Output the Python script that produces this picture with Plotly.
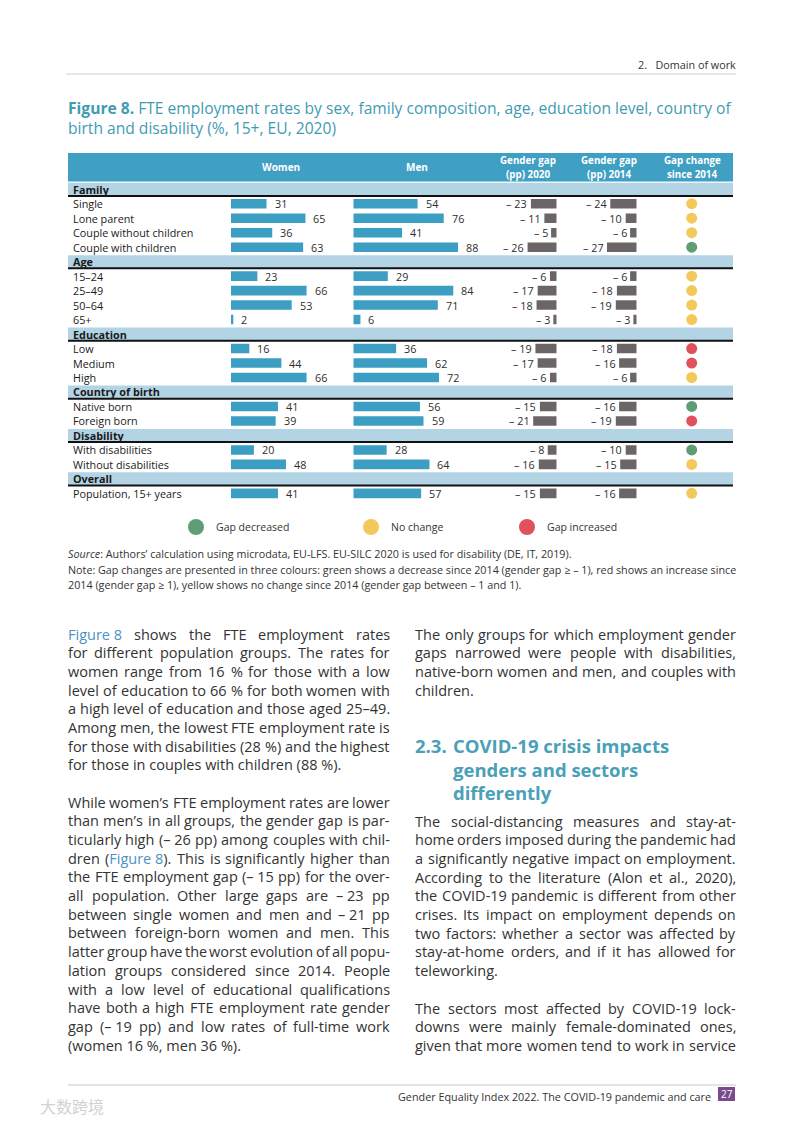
import plotly.graph_objects as go

W, H = 793, 1122
OFF = 8  # page body margin of the html page
def xp(px): return (px - OFF) / W
def yp(py): return 1 - (py - OFF) / H

# ---------------- data ----------------
rows = ["Family", "Single", "Lone parent", "Couple without children", "Couple with children",
        "Age", "15–24", "25–49", "50–64", "65+",
        "Education", "Low", "Medium", "High",
        "Country of birth", "Native born", "Foreign born",
        "Disability", "With disabilities", "Without disabilities",
        "Overall", "Population, 15+ years"]
section_rows = ["Family", "Age", "Education", "Country of birth", "Disability", "Overall"]

women = [None, 31, 65, 36, 63, None, 23, 66, 53, 2, None, 16, 44, 66, None, 41, 39, None, 20, 48, None, 41]
men = [None, 54, 76, 41, 88, None, 29, 84, 71, 6, None, 36, 62, 72, None, 56, 59, None, 28, 64, None, 57]
gap_2020 = [None, -23, -11, -5, -26, None, -6, -17, -18, -3, None, -19, -17, -6, None, -15, -21, None, -8, -16, None, -15]
gap_2014 = [None, -24, -10, -6, -27, None, -6, -18, -19, -3, None, -18, -16, -6, None, -16, -19, None, -10, -15, None, -16]
change = [None, "No change", "No change", "No change", "Gap decreased",
          None, "No change", "No change", "No change", "No change",
          None, "Gap increased", "Gap increased", "No change",
          None, "Gap decreased", "Gap increased",
          None, "Gap decreased", "No change",
          None, "No change"]
change_categories = ["Gap decreased", "No change", "Gap increased"]
column_headers = [("Women",), ("Men",), ("Gender gap", "(pp) 2020"), ("Gender gap", "(pp) 2014"), ("Gap change", "since 2014")]

# ---------------- styles ----------------
HEAD_BLUE = "#3fa0c3"
BAND_BLUE = "#b2d4e4"
BAR_BLUE = "#3c9ec3"
GAP_GREY = "#6b6567"
DOT_COLORS = {"Gap decreased": "#5f9e74", "No change": "#f3c95c", "Gap increased": "#e0525b"}
TXT = "#2e2e2e"
TEAL = "#3f9bb3"
LINK = "#4a93c4"
FONT = "Open Sans"

fig = go.Figure()

fig.add_trace(go.Bar(
    y=rows, x=[1 if r in section_rows else None for r in rows], orientation="h",
    xaxis="x", yaxis="y", width=0.9, marker=dict(color=BAND_BLUE, line=dict(width=0)),
    showlegend=False, hoverinfo="skip"))
fig.add_trace(go.Bar(y=rows, x=women, orientation="h", xaxis="x2", yaxis="y", width=0.66,
                     marker=dict(color=BAR_BLUE, line=dict(width=0)), showlegend=False))
fig.add_trace(go.Bar(y=rows, x=men, orientation="h", xaxis="x3", yaxis="y", width=0.66,
                     marker=dict(color=BAR_BLUE, line=dict(width=0)), showlegend=False))
fig.add_trace(go.Bar(y=rows, x=gap_2020, orientation="h", xaxis="x4", yaxis="y", width=0.66,
                     marker=dict(color=GAP_GREY, line=dict(width=0)), showlegend=False))
fig.add_trace(go.Bar(y=rows, x=gap_2014, orientation="h", xaxis="x5", yaxis="y", width=0.66,
                     marker=dict(color=GAP_GREY, line=dict(width=0)), showlegend=False))

for k, cat in enumerate(change_categories):
    ys = [r for r, c in zip(rows, change) if c == cat]
    fig.add_trace(go.Scatter(x=[0] * len(ys), y=ys, mode="markers", xaxis="x6", yaxis="y",
                             marker=dict(size=11, color=DOT_COLORS[cat]), showlegend=False))
    fig.add_trace(go.Scatter(x=[None], y=[None], mode="markers", name=cat,
                             marker=dict(size=17, color=DOT_COLORS[cat]),
                             legend="legend" if k == 0 else f"legend{k+1}", showlegend=True,
                             xaxis="x6", yaxis="y"))

ann = []
def add_text(xpx, ypx, text, size, color=TXT, anchor="left", family=FONT):
    shift = {"left": -2, "right": 2, "center": 0}[anchor]
    ann.append(dict(x=xp(xpx), y=yp(ypx), xref="paper", yref="paper", xanchor=anchor,
                    yanchor="middle", xshift=shift, showarrow=False, text=text,
                    font=dict(size=size, color=color, family=family)))

# row labels + rule under section bands
for i, r in enumerate(rows):
    sec = r in section_rows
    ann.append(dict(x=xp(73), xref="paper", y=r, yref="y", xanchor="left", yanchor="middle", xshift=-2,
                    text=f"<b>{r}</b>" if sec else r, showarrow=False,
                    font=dict(size=10.8, color="#1a1a1a", family=FONT)))
    if sec:
        fig.add_shape(type="line", xref="paper", yref="y", x0=xp(68), x1=xp(733),
                      y0=i + 0.46, y1=i + 0.46, line=dict(color="#111111", width=2))

for axis, vals in (("x2", women), ("x3", men)):
    for r, v in zip(rows, vals):
        if v is not None:
            ann.append(dict(x=v, xref=axis, y=r, yref="y", text=str(v), xanchor="left", yanchor="middle",
                            xshift=6, showarrow=False, font=dict(size=10.8, color=TXT, family=FONT)))
for axis, vals in (("x4", gap_2020), ("x5", gap_2014)):
    for r, v in zip(rows, vals):
        if v is not None:
            ann.append(dict(x=v, xref=axis, y=r, yref="y", text=f"– {abs(v)}", xanchor="right",
                            yanchor="middle", xshift=-1.5, showarrow=False,
                            font=dict(size=10.8, color=TXT, family=FONT)))

# header band
fig.add_shape(type="rect", xref="paper", yref="paper", x0=xp(68), x1=xp(733),
              y0=yp(181.5), y1=yp(153), fillcolor=HEAD_BLUE, line=dict(width=0), layer="below")
head_x = [281, 417, 528, 609, 692]
for cx, lines in zip(head_x, column_headers):
    if len(lines) == 1:
        add_text(cx, 167.5, f"<b>{lines[0]}</b>", 10, "white", "center")
    else:
        for ly, t in zip((160, 175), lines):
            add_text(cx, ly, f"<b>{t}</b>", 9.8, "white", "center")

# title
add_text(68, 108, "<b>Figure 8.</b> FTE employment rates by sex, family composition, age, education level, country of",
         15.6, TEAL)
add_text(68, 128, "birth and disability (%, 15+, EU, 2020)", 15.6, TEAL)

# source / note
add_text(68, 554, "<i>Source</i>: Authors’ calculation using microdata, EU-LFS. EU-SILC 2020 is used for disability (DE, IT, 2019).", 10.75, "#333")
add_text(68, 570, "Note: Gap changes are presented in three colours: green shows a decrease since 2014 (gender gap ≥ – 1), red shows an increase since", 10.75, "#333")
add_text(68, 585, "2014 (gender gap ≥ 1), yellow shows no change since 2014 (gender gap between – 1 and 1).", 10.75, "#333")

# ---------------- body text (justified) ----------------
CW = {' ': .26, '!': .267, '"': .404, '%': .818, "'": .221, '(': .296, ')': .296, ',': .245, '-': .322,
      '.': .266, '/': .367, ':': .266, ';': .266, '–': .5, '’': .174, '\u00a0': .26,
      'A': .633, 'B': .648, 'C': .631, 'D': .729, 'E': .556, 'F': .516, 'G': .728, 'H': .738, 'I': .279,
      'J': .267, 'K': .614, 'L': .519, 'M': .903, 'N': .754, 'O': .779, 'P': .602, 'Q': .779, 'R': .618,
      'S': .549, 'T': .553, 'U': .728, 'V': .595, 'W': .925, 'X': .577, 'Y': .56, 'Z': .571,
      'a': .556, 'b': .613, 'c': .476, 'd': .613, 'e': .561, 'f': .339, 'g': .548, 'h': .614, 'i': .253,
      'j': .253, 'k': .525, 'l': .253, 'm': .93, 'n': .614, 'o': .602, 'p': .613, 'q': .613, 'r': .407,
      's': .477, 't': .353, 'u': .614, 'v': .501, 'w': .778, 'x': .524, 'y': .502, 'z': .468}
for d in "0123456789":
    CW[d] = .572
def text_w(s, size):
    return sum(CW.get(ch, .56) for ch in s) * size

NB = "\u00a0"
left1 = [f"Figure{NB}8 shows the FTE employment rates",
         "for different population groups. The rates for",
         "women range from 16 % for those with a low",
         "level of education to 66 % for both women with",
         "a high level of education and those aged 25–49.",
         "Among men, the lowest FTE employment rate is",
         "for those with disabilities (28 %) and the highest",
         "for those in couples with children (88 %)."]
left2 = ["While women’s FTE employment rates are lower",
         "than men’s in all groups, the gender gap is par-",
         "ticularly high (– 26 pp) among couples with chil-",
         f"dren (Figure{NB}8). This is significantly higher than",
         "the FTE employment gap (– 15 pp) for the over-",
         "all population. Other large gaps are – 23 pp",
         "between single women and men and – 21 pp",
         "between foreign-born women and men. This",
         "latter group have the worst evolution of all popu-",
         "lation groups considered since 2014. People",
         "with a low level of educational qualifications",
         "have both a high FTE employment rate gender",
         "gap (– 19 pp) and low rates of full-time work",
         "(women 16 %, men 36 %)."]
right1 = ["The only groups for which employment gender",
          "gaps narrowed were people with disabilities,",
          "native-born women and men, and couples with",
          "children."]
right2 = ["The social-distancing measures and stay-at-",
          "home orders imposed during the pandemic had",
          "a significantly negative impact on employment.",
          "According to the literature (Alon et al., 2020),",
          "the COVID-19 pandemic is different from other",
          "crises. Its impact on employment depends on",
          "two factors: whether a sector was affected by",
          "stay-at-home orders, and if it has allowed for",
          "teleworking."]
right3 = ["The sectors most affected by COVID-19 lock-",
          "downs were mainly female-dominated ones,",
          "given that more women tend to work in service"]

BODY = 14.5
LH = 18.7
def fmt(w):
    return w.replace(f"Figure{NB}8", f"<span style='color:{LINK}'>Figure 8</span>")
def tokens(t):
    out = []
    for w in t.split(" "):
        if out and out[-1] in ("(–", "–"):
            out[-1] = out[-1] + NB + w
        else:
            out.append(w)
    return out
def para(lines, x0, x1, y0, last_justified=False):
    for k, t in enumerate(lines):
        y = y0 + k * LH
        if k == len(lines) - 1 and not last_justified:
            add_text(x0, y, fmt(t), BODY, "#333")
            continue
        words = tokens(t)
        widths = [text_w(w, BODY) for w in words]
        gap = (x1 - x0 - sum(widths)) / (len(words) - 1)
        x = x0
        for j, (w, wd) in enumerate(zip(words, widths)):
            if j == len(words) - 1:
                add_text(x1, y, fmt(w), BODY, "#333", "right")
            else:
                add_text(x, y, fmt(w), BODY, "#333", "left")
            x += wd + gap
para(left1, 68, 390, 634)
para(left2, 68, 390, 802)
para(right1, 415, 736, 634)
para(right2, 415, 736, 821)
para(right3, 415, 736, 1008, last_justified=True)

# section heading
HEAD_T = "#4aa0b6"
add_text(415, 745, "<b>2.3.</b>", 18.5, HEAD_T)
for hy, t in ((745, "COVID-19 crisis impacts"), (769, "genders and sectors"), (793, "differently")):
    add_text(453, hy, f"<b>{t}</b>", 18.5, HEAD_T)

# page header / footer
add_text(736, 65, "2.   Domain of work", 10.8, "#333", "right")
fig.add_shape(type="line", xref="paper", yref="paper", x0=xp(66), x1=xp(736), y0=yp(74), y1=yp(74),
              line=dict(color="#d0d0d0", width=1))
fig.add_shape(type="line", xref="paper", yref="paper", x0=xp(68), x1=xp(736), y0=yp(1085), y1=yp(1085),
              line=dict(color="#c8c8c8", width=1))
add_text(711, 1096, "Gender Equality Index 2022. The COVID-19 pandemic and care", 10.8, "#333", "right")
fig.add_shape(type="rect", xref="paper", yref="paper", x0=xp(718), x1=xp(735), y0=yp(1101), y1=yp(1087),
              fillcolor="#7b4a8c", line=dict(width=0))
add_text(726.5, 1094, "27", 10, "white", "center")
add_text(40, 1106, "大数跨境", 16, "#d2d2d2", "left", "Noto Sans CJK SC")

hidden = dict(visible=False, showgrid=False, zeroline=False, fixedrange=True)
legend_common = dict(orientation="h", yanchor="middle", y=yp(527), xanchor="left",
                     bgcolor="rgba(0,0,0,0)", borderwidth=0,
                     font=dict(size=10.5, color="#333", family=FONT))
fig.update_layout(
    width=W, height=H, margin=dict(l=0, r=0, t=0, b=0),
    paper_bgcolor="white", plot_bgcolor="rgba(0,0,0,0)",
    showlegend=True,
    xaxis=dict(domain=[xp(68), xp(733)], range=[0, 1], anchor="y", **hidden),
    xaxis2=dict(domain=[xp(231), xp(231 + 114.5)], range=[0, 100], anchor="y", **hidden),
    xaxis3=dict(domain=[xp(353.3), xp(353.3 + 119)], range=[0, 100], anchor="y", **hidden),
    xaxis4=dict(domain=[xp(556.7 - 112), xp(556.7)], range=[-100, 0], anchor="y", **hidden),
    xaxis5=dict(domain=[xp(636.7 - 110), xp(636.7)], range=[-100, 0], anchor="y", **hidden),
    xaxis6=dict(domain=[xp(681.7), xp(701.7)], range=[-1, 1], anchor="y", **hidden),
    yaxis=dict(domain=[yp(500.6), yp(182)], type="category", categoryorder="array",
               categoryarray=rows, range=[21.5, -0.5], **hidden),
    legend=dict(x=xp(176), **legend_common),
    legend2=dict(x=xp(351), **legend_common),
    legend3=dict(x=xp(507), **legend_common),
    annotations=ann,
    font=dict(family=FONT),
)

fig.write_html("out.html")
